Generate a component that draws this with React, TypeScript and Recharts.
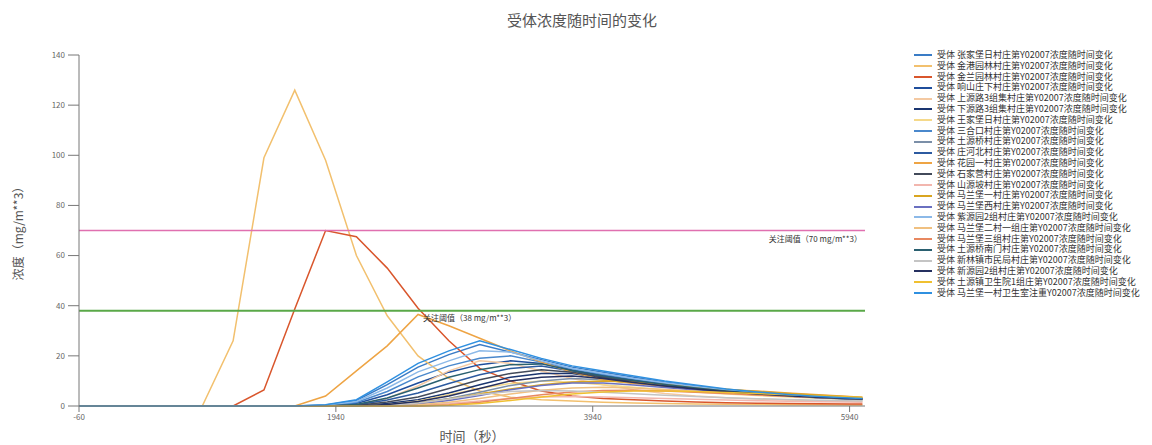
import { LineChart, Line, XAxis, YAxis, ReferenceLine, Label } from 'recharts';

document.body.style.margin = '0';

// time in seconds
const times = [-60, 180, 420, 660, 900, 1140, 1380, 1620, 1860, 2100, 2340, 2580, 2820, 3060, 3300, 3540, 3780, 4020, 4260, 4500, 4740, 4980, 5220, 5460, 5700, 5940, 6040];

const xTicks = [-60, 1940, 3940, 5940];
const yTicks = [0, 20, 40, 60, 80, 100, 120, 140];

const receptorNames = [
  '张家堡日村庄第', '金港园林村庄第', '金兰园林村庄第', '响山庄下村庄第', '上源路3组集村庄第',
  '下源路3组集村庄第', '王家堡日村庄第', '三合口村庄第', '土源桥村庄第', '庄河北村庄第',
  '花园一村庄第', '石家营村庄第', '山源坡村庄第', '马兰堡一村庄第', '马兰堡西村庄第',
  '紫源园2组村庄第', '马兰堡二村一组庄第', '马兰堡三组村庄第', '土源桥南门村庄第', '新林镇市民局村庄第',
  '新源园2组村庄第', '土源镇卫生院1组庄第', '马兰堡一村卫生室注重',
];

const s1 = [0, 0, 0, 0, 0, 0, 0, 0, 0.4, 2.2, 8.5, 15.5, 20.5, 24.5, 21.5, 18.5, 15.5, 13.5, 11.5, 9.6, 8, 6.6, 5.4, 4.5, 3.7, 3.1, 2.9];
const s2 = [0, 0, 0, 0, 0, 26, 99, 126, 98, 60, 36, 20, 11, 6, 3.5, 2.5, 2, 1.5, 1.2, 1, 0.8, 0.7, 0.6, 0.5, 0.5, 0.4, 0.4];
const s3 = [0, 0, 0, 0, 0, 0, 6.4, 38.7, 70, 67.5, 55, 39, 26, 15, 10, 6, 4, 3, 2.5, 2, 1.6, 1.3, 1.1, 1, 0.9, 0.8, 0.8];
const s4 = [0, 0, 0, 0, 0, 0, 0, 0, 0.1, 1, 4.5, 9.2, 13.5, 16.5, 18, 17, 14.5, 12.3, 10.5, 8.8, 7.3, 6, 5, 4.1, 3.4, 2.8, 2.6];
const s5 = [0, 0, 0, 0, 0, 0, 0, 0, 0, 0.5, 3, 8, 14, 18, 17, 14, 11, 8.5, 6.5, 5, 4, 3.3, 2.8, 2.4, 2, 1.8, 1.7];
const s6 = [0, 0, 0, 0, 0, 0, 0, 0, 0, 0, 1, 2.5, 5.2, 8.5, 11.5, 13, 13, 11.2, 9.5, 8, 6.8, 5.6, 4.7, 4, 3.4, 2.9, 2.7];
const s7 = [0, 0, 0, 0, 0, 0, 0, 0, 0, 0, 0.5, 2, 4.5, 7, 9, 10, 9.5, 8.5, 7.5, 6.5, 5.6, 4.8, 4.2, 3.6, 3.1, 2.7, 2.5];
const s8 = [0, 0, 0, 0, 0, 0, 0, 0, 0.2, 1.4, 5.8, 11.6, 16, 19, 20, 17.5, 14.8, 12.6, 10.8, 9, 7.5, 6.2, 5.1, 4.2, 3.5, 2.9, 2.7];
const s9 = [0, 0, 0, 0, 0, 0, 0, 0, 0, 0, 0.4, 1.2, 3, 5.5, 8.2, 10, 11, 10.5, 9.2, 7.9, 6.7, 5.7, 4.8, 4.1, 3.5, 3, 2.9];
const s10 = [0, 0, 0, 0, 0, 0, 0, 0, 0, 0.4, 2.4, 5.2, 9, 12.5, 15, 16, 14, 11.8, 10, 8.4, 7, 5.8, 4.8, 4, 3.3, 2.8, 2.6];
const s11 = [0, 0, 0, 0, 0, 0, 0, 0, 4, 14, 24, 36.5, 32, 27, 22, 17.5, 13.5, 10.5, 9, 8, 7, 6.5, 6, 5.2, 4.5, 3.8, 3.5];
const s12 = [0, 0, 0, 0, 0, 0, 0, 0, 0, 0.2, 1.6, 3.6, 7, 10.5, 13, 14.5, 13.5, 11.5, 9.8, 8.2, 6.9, 5.7, 4.8, 4, 3.4, 2.9, 2.7];
const s13 = [0, 0, 0, 0, 0, 0, 0, 0, 0, 0, 0, 0.3, 1, 2, 3, 3.6, 3.8, 3.6, 3.3, 3, 2.7, 2.4, 2.1, 1.9, 1.7, 1.6, 1.5];
const s14 = [0, 0, 0, 0, 0, 0, 0, 0, 0, 0, 0.3, 1.2, 2.8, 4.8, 6.8, 8.5, 9.6, 10, 9.5, 8.6, 7.6, 6.7, 5.8, 5, 4.3, 3.7, 3.4];
const s15 = [0, 0, 0, 0, 0, 0, 0, 0, 0, 0, 0, 0.8, 2.2, 4.2, 6.5, 8.2, 9.2, 9.2, 8.4, 7.4, 6.4, 5.5, 4.7, 4, 3.4, 3, 2.8];
const s16 = [0, 0, 0, 0, 0, 0, 0, 0, 0.3, 1.8, 7.2, 13.6, 18, 22, 21.5, 18, 15, 13, 11, 9.3, 7.8, 6.4, 5.3, 4.4, 3.6, 3, 2.8];
const s17 = [0, 0, 0, 0, 0, 0, 0, 0, 0, 0, 0, 0.5, 1.5, 3, 4.8, 6.3, 7.2, 7.5, 7.2, 6.6, 5.9, 5.2, 4.6, 4, 3.5, 3.1, 2.9];
const s18 = [0, 0, 0, 0, 0, 0, 0, 0, 0, 0, 0, 0, 0.5, 1.5, 3, 4.5, 5.6, 6.2, 6.3, 6, 5.5, 5, 4.4, 3.9, 3.4, 3, 2.8];
const s19 = [0, 0, 0, 0, 0, 0, 0, 0, 0, 0.6, 3.2, 7.2, 11.5, 14.5, 16.5, 16.8, 14.2, 12, 10.2, 8.6, 7.2, 6, 5, 4.2, 3.5, 3, 2.8];
const s20 = [0, 0, 0, 0, 0, 0, 0, 0, 0, 0, 0.3, 1.2, 2.8, 4.6, 5.8, 6.2, 6, 5.5, 4.9, 4.3, 3.8, 3.3, 2.9, 2.6, 2.3, 2.1, 2];
const s21 = [0, 0, 0, 0, 0, 0, 0, 0, 0, 0, 0.6, 1.8, 4, 7, 10, 11.5, 12, 11, 9.4, 8, 6.8, 5.7, 4.8, 4.1, 3.5, 3, 2.8];
const s22 = [0, 0, 0, 0, 0, 0, 0, 0, 0, 0, 0, 0, 0.3, 1, 2.2, 3.6, 4.8, 5.6, 6, 6, 5.8, 5.4, 5, 4.5, 4, 3.6, 3.4];
const s23 = [0, 0, 0, 0, 0, 0, 0, 0, 0.5, 2.5, 9.6, 17, 22, 26, 22.5, 19, 16, 14, 12, 10, 8.4, 6.8, 5.6, 4.6, 3.8, 3.2, 3];

const seriesValues = [s1, s2, s3, s4, s5, s6, s7, s8, s9, s10, s11, s12, s13, s14, s15, s16, s17, s18, s19, s20, s21, s22, s23];

const thresholdHigh = 70;
const thresholdLow = 38;

const colors = [
  '#3a7cc6', '#f2c06e', '#d9562c', '#1f4e9c', '#f4c9a2', '#1a3570', '#f5d98a', '#4a88cc', '#7b8fa8', '#2c5aa0',
  '#eea444', '#424a5a', '#f2b6ae', '#d9a520', '#6a70c0', '#8cb9e8', '#f0c080', '#e88860', '#2a6070', '#c4c4c4',
  '#253060', '#f0c030', '#2f90e0',
];

const FONT = '"Noto Sans CJK SC", "Noto Sans", sans-serif';

const data = times.map((t, i) => {
  const row: any = { t };
  seriesValues.forEach((vals, k) => { row['s' + k] = vals[i]; });
  return row;
});

export default function App() {
  return (
    <div style={{ position: 'relative', width: 1152, height: 445, fontFamily: FONT, background: '#fff' }}>
      <div style={{ position: 'absolute', left: 482, top: 10, width: 200, textAlign: 'center', fontSize: 15, color: '#555', lineHeight: '20px' }}>
        受体浓度随时间的变化
      </div>
      <LineChart width={1152} height={445} data={data} margin={{ top: 55, right: 287, bottom: 0, left: 0 }} style={{ fontFamily: FONT }}>
        <XAxis
          dataKey="t"
          type="number"
          domain={[-60, 6060]}
          ticks={xTicks}
          height={39}
          tickSize={6}
          tickMargin={2}
          tick={{ fontSize: 8, fill: '#666' }}
          axisLine={{ stroke: '#777' }}
          tickLine={{ stroke: '#777' }}
          label={{ value: '时间（秒）', position: 'insideBottom', offset: 4, style: { fontSize: 13, fill: '#555' } }}
        />
        <YAxis
          type="number"
          domain={[0, 140]}
          ticks={yTicks}
          width={79}
          tickSize={11}
          tickMargin={3}
          tick={{ fontSize: 8, fill: '#666' }}
          axisLine={{ stroke: '#777' }}
          tickLine={{ stroke: '#777' }}
          label={{ value: '浓度（mg/m**3）', angle: -90, position: 'insideLeft', offset: 19, style: { textAnchor: 'middle', fontSize: 12, fill: '#555' } }}
        />
        {seriesValues.map((_, k) => (
          <Line
            key={k}
            type="linear"
            dataKey={'s' + k}
            stroke={colors[k]}
            strokeWidth={1.5}
            dot={false}
            isAnimationActive={false}
          />
        ))}
        <ReferenceLine y={thresholdHigh} stroke="#e070b0" strokeWidth={1.5}>
          <Label
            content={(p: any) => (
              <text x={p.viewBox.x + p.viewBox.width - 3} y={p.viewBox.y + 11} textAnchor="end" fontSize={8} fill="#333">
                关注阈值（70 mg/m**3）
              </text>
            )}
          />
        </ReferenceLine>
        <ReferenceLine y={thresholdLow} stroke="#5aa848" strokeWidth={2}>
          <Label
            content={(p: any) => (
              <text x={p.viewBox.x + 344} y={p.viewBox.y + 10} fontSize={8} fill="#333">
                关注阈值（38 mg/m**3）
              </text>
            )}
          />
        </ReferenceLine>
      </LineChart>
      <div style={{ position: 'absolute', left: 914, top: 50, fontSize: 9, color: '#333' }}>
        {receptorNames.map((n, k) => (
          <div key={k} style={{ display: 'flex', alignItems: 'center', height: 10.8, whiteSpace: 'nowrap' }}>
            <span style={{ display: 'inline-block', width: 18, height: 2, background: colors[k], marginRight: 5 }} />
            <span style={{ lineHeight: '10.8px' }}>受体 {n}Y02007浓度随时间变化</span>
          </div>
        ))}
      </div>
    </div>
  );
}
